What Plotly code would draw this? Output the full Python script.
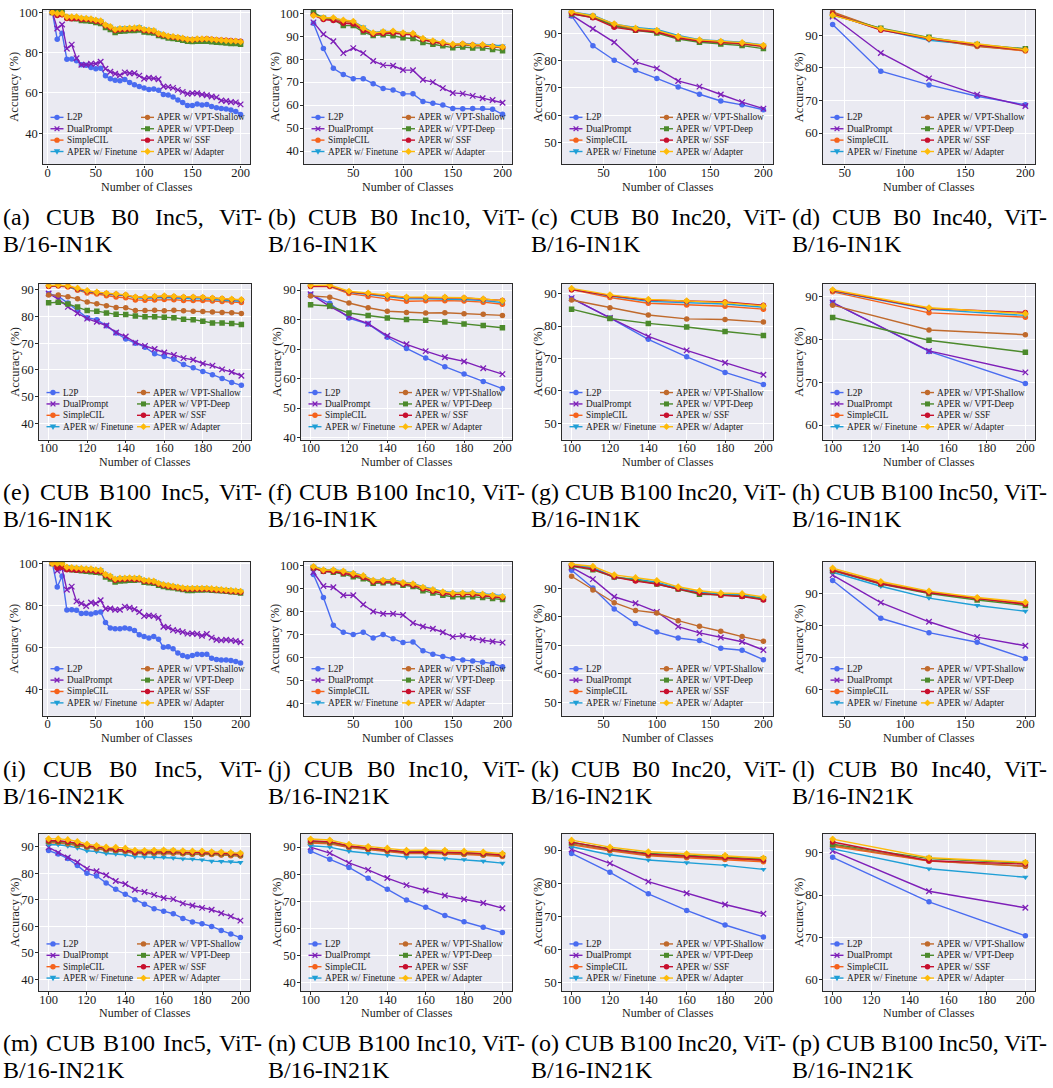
import plotly.graph_objects as go

W, H = 1053, 1088
FONT = "Liberation Serif, Times New Roman, serif"

SERIES = ["L2P", "DualPrompt", "SimpleCIL", "APER w/ Finetune",
          "APER w/ VPT-Shallow", "APER w/ VPT-Deep", "APER w/ SSF", "APER w/ Adapter"]
COLORS = ["#4a6cf0", "#7e1fb8", "#f5621c", "#1f9fd6",
          "#c06a2c", "#4c8a2c", "#c8102e", "#fdbb0a"]
SYMBOLS = ["circle", "x-thin", "circle", "triangle-down",
           "circle", "square", "circle", "diamond"]

# x values (number of classes seen)
X_B0_5 = list(range(5, 201, 5))
X_B0_10 = list(range(10, 201, 10))
X_B0_20 = list(range(20, 201, 20))
X_B0_40 = list(range(40, 201, 40))
X_B100_5 = list(range(100, 201, 5))
X_B100_10 = list(range(100, 201, 10))
X_B100_20 = list(range(100, 201, 20))
X_B100_50 = [100, 150, 200]

# (a) CUB B0 Inc5, IN1K
A_L2P = [100.0, 86.6, 89.6, 76.7, 76.8, 76.0, 74.0, 73.8, 72.6, 72.0, 72.3, 68.5, 67.0, 66.3, 66.0, 66.6, 65.2, 64.0, 63.2, 62.5, 61.7, 62.0, 61.3, 59.2, 59.0, 58.0, 56.5, 55.2, 53.8, 53.8, 54.5, 54.0, 54.3, 53.3, 52.6, 52.2, 52.0, 51.5, 50.8, 49.3]
A_DUAL = [100.0, 92.0, 94.0, 82.0, 84.0, 77.2, 74.0, 74.0, 74.5, 74.5, 75.5, 72.0, 70.5, 69.5, 68.8, 70.2, 69.8, 69.8, 68.6, 67.0, 67.5, 67.2, 66.8, 63.2, 63.0, 62.5, 61.5, 60.5, 59.6, 59.8, 59.8, 59.2, 58.8, 58.2, 57.8, 56.2, 56.0, 55.5, 55.3, 54.3]
A_SCIL = [100, 99.0, 99.0, 97.5, 97.4, 97.3, 96.8, 96.6, 96.4, 95.8, 95.4, 93.4, 92.6, 91.2, 91.6, 91.7, 91.8, 91.9, 92.1, 91.1, 90.8, 90.6, 89.2, 88.7, 87.9, 87.7, 87.3, 86.9, 86.3, 86.2, 86.5, 86.5, 86.6, 86.3, 86.1, 85.9, 85.7, 85.5, 85.5, 85.2]
A_FT = [100, 99.6, 99.6, 98.0, 97.8, 97.6, 97.3, 97.1, 96.9, 96.3, 96.0, 94.0, 93.2, 91.8, 92.3, 92.4, 92.5, 92.6, 92.9, 91.9, 91.5, 91.2, 89.8, 89.2, 88.5, 88.1, 87.8, 87.3, 86.8, 86.7, 86.9, 86.9, 86.9, 86.7, 86.5, 86.3, 86.1, 86.0, 85.9, 85.7]
A_VPTS = [100, 99.2, 99.2, 97.6, 97.3, 97.1, 96.6, 96.4, 96.2, 95.5, 95.1, 93.1, 92.3, 90.9, 91.3, 91.4, 91.5, 91.6, 91.8, 90.8, 90.5, 90.3, 88.9, 88.4, 87.6, 87.4, 87.0, 86.6, 86.0, 85.9, 86.2, 86.2, 86.3, 86.0, 85.8, 85.6, 85.4, 85.2, 85.2, 84.9]
A_VPTD = [100, 100.3, 100.3, 97.5, 97.0, 96.8, 96.0, 95.8, 95.6, 95.0, 94.5, 92.5, 91.5, 90.0, 90.6, 90.8, 91.0, 91.0, 91.3, 90.3, 90.0, 89.8, 88.5, 88.0, 87.3, 87.0, 86.6, 86.2, 85.6, 85.5, 85.6, 85.6, 85.6, 85.4, 85.2, 85.0, 84.8, 84.6, 84.5, 84.2]
A_SSF = [100, 98.5, 98.8, 97.0, 96.8, 97.0, 96.5, 96.4, 96.2, 95.6, 95.2, 93.3, 92.4, 91.0, 91.4, 91.5, 91.6, 91.7, 92.0, 91.0, 90.7, 90.5, 89.0, 88.6, 88.0, 87.6, 87.4, 87.0, 86.5, 86.4, 86.7, 86.7, 86.9, 86.6, 86.4, 86.3, 86.1, 86.0, 85.8, 85.6]
A_ADA = [100, 99.5, 99.5, 97.8, 97.8, 97.8, 97.2, 97.0, 96.8, 96.2, 95.8, 93.8, 93.0, 91.5, 92.0, 92.0, 92.2, 92.3, 92.5, 91.5, 91.2, 91.0, 89.5, 89.0, 88.2, 88.0, 87.6, 87.2, 86.6, 86.5, 86.8, 86.8, 86.9, 86.6, 86.4, 86.2, 86.0, 85.8, 85.8, 85.4]

# (b) CUB B0 Inc10, IN1K
B_L2P = [95.6, 84.6, 76.0, 73.3, 71.5, 71.5, 69.3, 67.2, 66.6, 64.9, 64.9, 61.6, 60.8, 60.0, 58.5, 58.4, 58.5, 58.5, 58.2, 56.0]
B_DUAL = [96.0, 90.8, 87.8, 82.6, 84.8, 82.6, 79.2, 77.4, 77.1, 75.3, 75.2, 71.0, 70.0, 67.4, 65.3, 65.0, 64.0, 63.0, 62.2, 61.0]
B_SCIL = [99.2, 97.6, 97.2, 96.4, 96.0, 93.0, 91.0, 91.6, 91.8, 91.0, 90.8, 88.6, 87.6, 86.9, 86.2, 86.4, 86.0, 85.9, 85.4, 85.1]
B_FT = [99.8, 98.0, 97.6, 96.8, 96.4, 94.0, 91.5, 92.2, 92.0, 91.5, 91.2, 89.0, 88.0, 87.2, 86.4, 86.7, 86.4, 86.4, 86.0, 85.8]
B_VPTS = [99.4, 97.8, 97.4, 96.5, 96.1, 93.2, 91.2, 91.6, 91.6, 91.0, 90.8, 88.4, 87.3, 86.7, 86.0, 86.2, 85.8, 85.8, 85.2, 84.9]
B_VPTD = [100.5, 97.8, 97.2, 94.6, 94.6, 91.8, 90.3, 90.6, 90.2, 89.3, 89.0, 87.2, 86.5, 85.8, 85.0, 85.3, 84.9, 84.9, 84.2, 83.7]
B_SSF = [99.2, 97.2, 96.8, 95.6, 95.3, 92.5, 90.8, 91.2, 91.4, 90.8, 90.6, 88.5, 87.5, 86.8, 86.2, 86.6, 86.2, 86.0, 85.5, 85.2]
B_ADA = [99.0, 98.0, 98.0, 97.0, 96.5, 93.5, 91.5, 92.0, 92.2, 91.5, 91.2, 89.0, 88.0, 87.3, 86.5, 86.7, 86.2, 86.3, 85.6, 85.3]

# (c) CUB B0 Inc20, IN1K
C_L2P = [96.5, 85.5, 80.2, 76.5, 73.5, 70.4, 67.7, 65.2, 63.8, 62.0]
C_DUAL = [96.8, 91.8, 86.8, 79.6, 77.2, 72.6, 70.5, 67.6, 64.8, 62.4]
C_SCIL = [97.8, 96.6, 93.4, 91.7, 91.0, 88.8, 87.5, 87.0, 86.5, 85.5]
C_FT = [98.0, 96.8, 93.5, 92.3, 91.5, 89.3, 87.8, 87.3, 86.8, 85.8]
C_VPTS = [97.6, 96.2, 93.0, 91.5, 90.6, 88.4, 87.2, 86.6, 86.1, 85.2]
C_VPTD = [97.2, 96.0, 92.8, 91.2, 90.2, 88.0, 86.8, 86.2, 85.6, 84.5]
C_SSF = [97.4, 95.8, 92.3, 91.2, 90.6, 88.4, 87.3, 86.7, 86.3, 85.3]
C_ADA = [98.0, 96.5, 93.6, 92.0, 91.2, 89.0, 87.7, 87.2, 86.7, 85.7]

# (d) CUB B0 Inc40, IN1K
D_L2P = [93.3, 79.0, 74.8, 71.3, 68.7]
D_DUAL = [95.8, 84.6, 76.8, 71.8, 68.3]
D_SCIL = [97.0, 91.8, 89.0, 86.8, 85.2]
D_FT = [96.5, 91.8, 88.5, 87.0, 85.8]
D_VPTS = [97.2, 91.9, 89.0, 86.6, 85.4]
D_VPTD = [96.2, 92.2, 89.4, 87.2, 85.9]
D_SSF = [96.6, 91.6, 89.0, 87.0, 85.5]
D_ADA = [96.2, 92.0, 89.2, 87.3, 85.6]

# (e) CUB B100 Inc5, IN1K
E_L2P = [88.5, 87.5, 85.0, 82.3, 79.5, 78.8, 76.5, 73.8, 71.6, 70.0, 68.5, 66.0, 65.0, 64.0, 62.0, 60.8, 59.4, 58.2, 56.8, 55.3, 54.2]
E_DUAL = [88.6, 86.5, 83.6, 81.2, 79.2, 78.0, 76.6, 74.0, 72.5, 70.2, 69.0, 67.8, 66.5, 65.6, 64.4, 63.8, 62.4, 61.6, 60.2, 59.2, 57.8]
E_SCIL = [91.2, 91.4, 91.0, 89.8, 88.8, 88.4, 87.8, 87.3, 87.0, 86.2, 86.1, 86.2, 86.4, 86.3, 86.0, 86.0, 86.0, 85.8, 85.6, 85.4, 85.2]
E_FT = [91.4, 91.6, 91.2, 90.0, 89.2, 88.8, 88.3, 88.0, 87.8, 87.0, 86.8, 86.9, 87.1, 86.9, 86.7, 86.6, 86.6, 86.3, 86.1, 85.9, 85.7]
E_VPTS = [88.0, 88.0, 87.4, 86.6, 85.4, 84.8, 84.0, 83.4, 83.3, 82.2, 82.2, 82.3, 82.1, 82.3, 82.1, 82.0, 81.9, 81.7, 81.5, 81.4, 81.1]
E_VPTD = [85.1, 85.3, 84.7, 83.5, 82.2, 82.0, 81.3, 80.8, 80.7, 80.2, 79.9, 79.9, 79.7, 79.5, 79.0, 78.8, 78.2, 77.6, 77.6, 77.4, 77.0]
E_SSF = [91.3, 91.6, 91.3, 90.3, 89.4, 89.0, 88.6, 88.3, 88.0, 87.2, 87.2, 87.4, 87.6, 87.4, 87.2, 87.2, 87.1, 86.8, 86.6, 86.4, 86.2]
E_ADA = [91.6, 91.8, 91.5, 90.6, 89.7, 89.1, 88.7, 88.4, 88.1, 87.3, 87.3, 87.5, 87.7, 87.5, 87.3, 87.3, 87.2, 86.9, 86.7, 86.5, 86.3]

# (f) CUB B100 Inc10, IN1K
F_L2P = [88.5, 85.5, 80.5, 78.5, 74.0, 70.2, 67.0, 64.0, 61.5, 59.0, 56.6]
F_DUAL = [88.6, 84.5, 81.0, 78.6, 74.5, 71.6, 69.3, 67.2, 65.8, 63.5, 61.5]
F_SCIL = [91.2, 91.2, 88.8, 87.8, 87.0, 86.2, 86.4, 86.4, 86.3, 85.9, 85.2]
F_FT = [91.5, 91.4, 89.2, 88.5, 87.6, 87.0, 87.0, 87.0, 86.8, 86.4, 85.8]
F_VPTS = [88.0, 87.6, 85.6, 84.0, 82.8, 82.4, 82.2, 82.3, 82.0, 81.8, 81.4]
F_VPTD = [85.0, 84.6, 82.2, 81.4, 80.5, 80.0, 79.8, 79.2, 78.5, 78.0, 77.2]
F_SSF = [91.3, 91.4, 89.3, 88.8, 88.1, 87.5, 87.5, 87.5, 87.3, 86.9, 86.5]
F_ADA = [91.6, 91.7, 89.6, 89.0, 88.2, 87.6, 87.6, 87.6, 87.4, 87.0, 86.4]

# (g) CUB B100 Inc20, IN1K
G_L2P = [88.5, 82.5, 75.9, 70.5, 65.7, 62.0]
G_DUAL = [88.6, 82.5, 76.8, 72.5, 68.7, 65.0]
G_SCIL = [91.2, 88.8, 87.0, 86.5, 86.1, 85.2]
G_FT = [91.4, 89.2, 87.6, 87.2, 86.8, 85.8]
G_VPTS = [88.0, 85.6, 83.4, 82.2, 82.0, 81.2]
G_VPTD = [85.2, 82.3, 80.8, 79.7, 78.3, 77.1]
G_SSF = [91.2, 89.4, 88.0, 87.6, 87.4, 86.4]
G_ADA = [91.6, 89.6, 88.2, 87.8, 87.2, 86.2]

# (h) CUB B100 Inc50, IN1K
H_L2P = [88.6, 77.2, 69.7]
H_DUAL = [88.6, 77.3, 72.3]
H_SCIL = [91.1, 86.2, 85.2]
H_FT = [91.3, 87.0, 85.6]
H_VPTS = [88.0, 82.2, 81.1]
H_VPTD = [85.1, 79.8, 77.0]
H_SSF = [91.4, 87.2, 86.3]
H_ADA = [91.6, 87.4, 86.0]

# (i) CUB B0 Inc5, IN21K
I_L2P = [100.0, 88.8, 94.0, 77.9, 78.0, 77.8, 76.2, 76.4, 76.0, 76.6, 77.0, 72.0, 69.4, 69.0, 69.0, 69.4, 69.0, 68.2, 66.2, 65.4, 64.6, 65.3, 64.0, 60.2, 60.5, 59.5, 57.5, 56.3, 55.8, 56.3, 57.0, 56.8, 57.0, 55.0, 54.5, 54.2, 54.2, 54.0, 53.5, 52.8]
I_DUAL = [100.0, 96.5, 97.5, 87.5, 89.0, 82.0, 81.0, 79.8, 81.5, 81.0, 82.5, 78.5, 78.6, 78.0, 78.0, 79.5, 79.0, 78.3, 77.0, 75.0, 75.3, 75.0, 74.2, 70.0, 69.6, 68.4, 68.0, 67.5, 66.7, 66.8, 66.5, 65.7, 66.5, 64.8, 63.8, 63.5, 63.8, 63.5, 63.2, 62.6]
I_SCIL = [100, 98.5, 99.0, 97.8, 97.6, 97.4, 97.2, 97.0, 97.0, 96.6, 96.4, 94.4, 93.6, 92.2, 92.6, 92.6, 92.8, 92.6, 92.6, 91.6, 91.4, 91.2, 90.2, 89.6, 89.2, 88.8, 88.4, 88.0, 87.8, 87.8, 87.8, 87.8, 87.8, 87.6, 87.4, 87.2, 87.0, 86.8, 86.6, 86.4]
I_FT = [100, 100, 100, 98.4, 98.2, 98.0, 97.8, 97.6, 97.6, 97.2, 97.0, 95.0, 94.2, 92.8, 93.2, 93.3, 93.4, 93.3, 93.3, 92.3, 92.0, 91.8, 90.8, 90.2, 89.8, 89.4, 89.0, 88.6, 88.4, 88.4, 88.4, 88.4, 88.4, 88.2, 88.0, 87.8, 87.6, 87.4, 87.2, 87.0]
I_VPTS = [100, 99.5, 99.5, 97.6, 97.4, 97.2, 97.0, 96.8, 96.8, 96.4, 96.2, 94.2, 93.4, 92.0, 92.4, 92.4, 92.6, 92.4, 92.4, 91.4, 91.2, 91.0, 90.0, 89.4, 89.0, 88.6, 88.2, 87.8, 87.6, 87.6, 87.6, 87.6, 87.6, 87.4, 87.2, 87.0, 86.8, 86.6, 86.4, 86.2]
I_VPTD = [100, 100, 100, 97.5, 97.0, 96.8, 96.5, 96.3, 96.0, 95.8, 95.6, 93.6, 92.6, 91.2, 91.6, 91.8, 92.0, 92.0, 92.2, 91.0, 90.8, 90.6, 89.6, 89.0, 88.6, 88.4, 88.0, 87.6, 87.2, 87.2, 87.4, 87.4, 87.5, 87.3, 87.1, 87.0, 86.8, 86.6, 86.4, 86.0]
I_SSF = [100, 97.8, 98.2, 97.0, 97.0, 96.8, 96.8, 96.6, 96.6, 96.2, 96.0, 94.2, 93.4, 92.0, 92.4, 92.4, 92.6, 92.4, 92.4, 91.5, 91.3, 91.1, 90.1, 89.5, 89.1, 88.7, 88.3, 87.9, 87.7, 87.7, 87.7, 87.7, 87.7, 87.5, 87.3, 87.1, 86.9, 86.7, 86.5, 86.3]
I_ADA = [100, 100, 100, 98.2, 98.0, 97.8, 97.6, 97.4, 97.4, 97.0, 96.8, 94.8, 94.0, 92.6, 93.0, 93.0, 93.2, 93.0, 93.0, 92.0, 91.8, 91.6, 90.6, 90.0, 89.6, 89.2, 88.8, 88.4, 88.2, 88.2, 88.2, 88.2, 88.2, 88.0, 87.8, 87.6, 87.4, 87.2, 87.0, 86.8]

# (j) CUB B0 Inc10, IN21K
J_L2P = [96.0, 86.0, 74.0, 71.0, 70.0, 71.0, 68.5, 70.0, 68.2, 66.5, 66.8, 63.0, 61.5, 60.5, 59.5, 59.0, 58.5, 58.0, 57.5, 56.0]
J_DUAL = [97.0, 91.0, 90.5, 87.0, 87.0, 83.0, 80.0, 79.0, 79.0, 78.5, 75.0, 73.5, 72.5, 71.0, 69.0, 69.5, 68.5, 67.5, 67.0, 66.5]
J_SCIL = [99.2, 97.7, 97.6, 97.0, 96.0, 95.0, 93.0, 93.0, 93.0, 92.0, 91.5, 90.0, 89.0, 88.0, 87.5, 87.5, 87.5, 87.0, 86.6, 86.1]
J_FT = [99.6, 98.2, 98.1, 97.6, 96.7, 95.6, 93.6, 93.7, 93.7, 92.7, 92.2, 90.7, 89.7, 88.7, 88.2, 88.2, 88.2, 87.7, 87.3, 86.8]
J_VPTS = [99.3, 97.8, 97.7, 97.1, 96.1, 95.1, 93.1, 93.1, 93.1, 92.1, 91.6, 90.0, 89.0, 88.0, 87.5, 87.5, 87.5, 87.0, 86.6, 86.2]
J_VPTD = [99.0, 97.4, 97.0, 96.2, 95.0, 94.2, 92.2, 92.4, 92.4, 91.4, 90.8, 89.0, 88.0, 87.0, 86.4, 86.4, 86.4, 86.0, 85.6, 85.2]
J_SSF = [98.8, 97.3, 97.2, 96.6, 95.6, 94.7, 92.8, 92.8, 92.8, 91.8, 91.3, 89.8, 88.8, 87.8, 87.3, 87.3, 87.3, 86.8, 86.4, 85.9]
J_ADA = [99.5, 98.0, 98.0, 97.5, 96.5, 95.5, 93.5, 93.5, 93.5, 92.5, 92.0, 90.5, 89.5, 88.5, 88.0, 88.0, 88.0, 87.5, 87.0, 86.5]

# (k) CUB B0 Inc20, IN21K
K_L2P = [96.4, 90.2, 82.8, 77.7, 74.7, 72.6, 71.7, 69.0, 68.3, 65.0]
K_DUAL = [97.4, 93.3, 87.1, 84.8, 81.8, 76.6, 74.4, 72.8, 71.3, 68.4]
K_SCIL = [98.4, 97.2, 94.2, 92.8, 91.8, 90.0, 88.5, 87.8, 87.4, 86.2]
K_FT = [98.2, 97.4, 93.8, 93.4, 92.2, 90.2, 88.8, 88.0, 87.8, 86.6]
K_VPTS = [94.3, 89.5, 85.0, 82.3, 81.4, 78.7, 76.7, 75.0, 73.1, 71.5]
K_VPTD = [97.8, 96.6, 94.0, 93.0, 91.6, 89.8, 88.0, 87.8, 87.3, 86.3]
K_SSF = [98.0, 96.8, 94.0, 92.6, 91.6, 89.8, 88.3, 87.6, 87.2, 86.0]
K_ADA = [98.5, 97.8, 94.8, 93.8, 92.8, 90.6, 89.2, 88.4, 88.2, 87.0]

# (l) CUB B0 Inc40, IN21K
L_L2P = [94.1, 82.3, 77.8, 74.8, 69.7]
L_DUAL = [95.8, 87.2, 81.2, 76.4, 73.7]
L_SCIL = [97.4, 93.2, 90.2, 88.3, 86.6]
L_FT = [96.7, 92.3, 88.6, 86.3, 84.5]
L_VPTS = [97.5, 93.4, 90.5, 88.6, 87.0]
L_VPTD = [97.2, 93.0, 90.0, 88.0, 86.3]
L_SSF = [97.3, 93.1, 90.3, 88.4, 86.7]
L_ADA = [98.0, 93.8, 90.8, 88.8, 87.3]

# (m) CUB B100 Inc5, IN21K
M_L2P = [88.6, 87.3, 85.6, 83.0, 80.0, 79.0, 76.4, 74.0, 72.1, 70.1, 68.4, 66.7, 65.7, 64.8, 63.0, 61.7, 61.0, 60.0, 58.5, 57.2, 55.8]
M_DUAL = [89.8, 87.8, 86.0, 84.2, 81.8, 80.8, 79.3, 77.1, 76.0, 73.8, 73.0, 71.9, 70.7, 70.3, 68.7, 67.9, 67.0, 66.3, 65.0, 63.8, 62.2]
M_SCIL = [91.5, 91.4, 91.0, 90.4, 89.8, 89.2, 88.7, 88.4, 88.2, 87.5, 87.5, 87.5, 87.6, 87.6, 87.4, 87.2, 87.2, 87.1, 86.9, 86.6, 86.5]
M_FT = [90.8, 90.8, 90.3, 89.6, 88.5, 88.2, 87.5, 87.3, 87.0, 86.3, 86.2, 86.1, 86.1, 85.8, 85.5, 85.4, 85.1, 84.6, 84.5, 84.4, 84.1]
M_VPTS = [91.8, 91.7, 91.2, 90.5, 89.9, 89.3, 88.8, 88.5, 88.3, 87.6, 87.6, 87.6, 87.7, 87.7, 87.5, 87.3, 87.3, 87.2, 87.0, 86.8, 86.6]
M_VPTD = [92.2, 92.1, 91.7, 91.0, 90.3, 89.9, 89.3, 89.0, 88.9, 88.0, 88.0, 88.1, 88.2, 88.2, 87.9, 87.8, 87.8, 87.6, 87.5, 87.3, 87.1]
M_SSF = [92.3, 92.3, 91.9, 91.3, 90.4, 90.0, 89.3, 89.0, 88.8, 88.0, 88.0, 88.1, 88.2, 88.2, 88.0, 87.9, 87.9, 87.7, 87.6, 87.4, 87.2]
M_ADA = [93.0, 93.0, 92.7, 92.0, 91.0, 90.5, 89.9, 89.8, 89.5, 88.7, 88.6, 88.7, 88.8, 88.7, 88.5, 88.4, 88.4, 88.1, 88.0, 87.8, 87.6]

# (n) CUB B100 Inc10, IN21K
N_L2P = [88.5, 85.5, 82.5, 78.5, 74.5, 70.5, 67.8, 64.8, 62.5, 60.5, 58.5]
N_DUAL = [90.0, 87.8, 84.2, 81.6, 78.6, 76.0, 74.0, 72.2, 70.8, 69.4, 67.5]
N_SCIL = [91.5, 91.2, 89.8, 89.0, 88.4, 87.6, 87.7, 87.6, 87.3, 87.0, 86.5]
N_FT = [90.5, 90.0, 88.5, 87.7, 87.0, 86.3, 86.3, 85.8, 85.4, 84.8, 84.1]
N_VPTS = [91.8, 91.5, 90.0, 89.2, 88.6, 87.8, 87.9, 87.8, 87.5, 87.2, 86.8]
N_VPTD = [92.2, 91.9, 90.4, 89.6, 89.0, 88.2, 88.3, 88.2, 87.9, 87.6, 87.2]
N_SSF = [92.3, 92.0, 90.4, 89.6, 89.0, 88.1, 88.2, 88.1, 87.9, 87.6, 87.1]
N_ADA = [93.0, 92.6, 91.0, 90.2, 89.6, 88.8, 88.9, 88.8, 88.5, 88.2, 87.6]

# (o) CUB B100 Inc20, IN21K
O_L2P = [89.0, 83.3, 76.8, 71.8, 67.4, 63.8]
O_DUAL = [90.2, 86.0, 80.5, 77.0, 73.6, 70.8]
O_SCIL = [91.6, 89.8, 88.3, 87.7, 87.2, 86.5]
O_FT = [91.0, 88.6, 87.0, 86.2, 85.4, 84.2]
O_VPTS = [91.9, 90.0, 88.5, 87.9, 87.5, 86.9]
O_VPTD = [92.3, 90.4, 89.0, 88.4, 88.0, 87.3]
O_SSF = [92.4, 90.3, 88.8, 88.2, 87.8, 87.0]
O_ADA = [93.0, 90.9, 89.5, 88.9, 88.4, 87.6]

# (p) CUB B100 Inc50, IN21K
P_L2P = [88.9, 78.4, 70.4]
P_DUAL = [90.4, 80.9, 77.0]
P_SCIL = [91.5, 88.0, 86.8]
P_FT = [90.9, 86.2, 84.2]
P_VPTS = [91.8, 88.1, 86.8]
P_VPTD = [92.0, 88.6, 87.5]
P_SSF = [92.5, 88.1, 87.3]
P_ADA = [93.2, 88.8, 87.7]

CAPTIONS = [
    ("(a) CUB B0 Inc5, ViT-", "B/16-IN1K"), ("(b) CUB B0 Inc10, ViT-", "B/16-IN1K"),
    ("(c) CUB B0 Inc20, ViT-", "B/16-IN1K"), ("(d) CUB B0 Inc40, ViT-", "B/16-IN1K"),
    ("(e) CUB B100 Inc5, ViT-", "B/16-IN1K"), ("(f) CUB B100 Inc10, ViT-", "B/16-IN1K"),
    ("(g) CUB B100 Inc20, ViT-", "B/16-IN1K"), ("(h) CUB B100 Inc50, ViT-", "B/16-IN1K"),
    ("(i) CUB B0 Inc5, ViT-", "B/16-IN21K"), ("(j) CUB B0 Inc10, ViT-", "B/16-IN21K"),
    ("(k) CUB B0 Inc20, ViT-", "B/16-IN21K"), ("(l) CUB B0 Inc40, ViT-", "B/16-IN21K"),
    ("(m) CUB B100 Inc5, ViT-", "B/16-IN21K"), ("(n) CUB B100 Inc10, ViT-", "B/16-IN21K"),
    ("(o) CUB B100 Inc20, ViT-", "B/16-IN21K"), ("(p) CUB B100 Inc50, ViT-", "B/16-IN21K"),
]

PANELS = [
    (X_B0_5, [A_L2P, A_DUAL, A_SCIL, A_FT, A_VPTS, A_VPTD, A_SSF, A_ADA], [24.5, 101.2], 20, 50),
    (X_B0_10, [B_L2P, B_DUAL, B_SCIL, B_FT, B_VPTS, B_VPTD, B_SSF, B_ADA], [34.2, 101.4], 10, 50),
    (X_B0_20, [C_L2P, C_DUAL, C_SCIL, C_FT, C_VPTS, C_VPTD, C_SSF, C_ADA], [41.9, 98.7], 10, 50),
    (X_B0_40, [D_L2P, D_DUAL, D_SCIL, D_FT, D_VPTS, D_VPTD, D_SSF, D_ADA], [50.4, 97.8], 10, 50),
    (X_B100_5, [E_L2P, E_DUAL, E_SCIL, E_FT, E_VPTS, E_VPTD, E_SSF, E_ADA], [33.9, 92.1], 10, 20),
    (X_B100_10, [F_L2P, F_DUAL, F_SCIL, F_FT, F_VPTS, F_VPTD, F_SSF, F_ADA], [39.3, 92.0], 10, 20),
    (X_B100_20, [G_L2P, G_DUAL, G_SCIL, G_FT, G_VPTS, G_VPTD, G_SSF, G_ADA], [45.0, 92.9], 10, 20),
    (X_B100_50, [H_L2P, H_DUAL, H_SCIL, H_FT, H_VPTS, H_VPTD, H_SSF, H_ADA], [56.6, 92.9], 10, 20),
    (X_B0_5, [I_L2P, I_DUAL, I_SCIL, I_FT, I_VPTS, I_VPTD, I_SSF, I_ADA], [27.8, 100.5], 20, 50),
    (X_B0_10, [J_L2P, J_DUAL, J_SCIL, J_FT, J_VPTS, J_VPTD, J_SSF, J_ADA], [34.8, 101.3], 10, 50),
    (X_B0_20, [K_L2P, K_DUAL, K_SCIL, K_FT, K_VPTS, K_VPTD, K_SSF, K_ADA], [45.3, 99.2], 10, 50),
    (X_B0_40, [L_L2P, L_DUAL, L_SCIL, L_FT, L_VPTS, L_VPTD, L_SSF, L_ADA], [51.8, 99.8], 10, 50),
    (X_B100_5, [M_L2P, M_DUAL, M_SCIL, M_FT, M_VPTS, M_VPTD, M_SSF, M_ADA], [35.7, 95.0], 10, 20),
    (X_B100_10, [N_L2P, N_DUAL, N_SCIL, N_FT, N_VPTS, N_VPTD, N_SSF, N_ADA], [37.0, 95.0], 10, 20),
    (X_B100_20, [O_L2P, O_DUAL, O_SCIL, O_FT, O_VPTS, O_VPTD, O_SSF, O_ADA], [47.5, 95.0], 10, 20),
    (X_B100_50, [P_L2P, P_DUAL, P_SCIL, P_FT, P_VPTS, P_VPTD, P_SSF, P_ADA], [57.4, 94.5], 10, 20),
]

# plot-area boxes in pixels: (left, right, top, bottom)
ROW_TB = [(4, 160), (281, 438), (562, 717), (836, 995)]
COL_LR = [
    [(43, 250), (304, 512), (562, 773), (823, 1035)],
    [(39, 251), (301, 512), (562, 773), (823, 1035)],
    [(43, 250), (304, 512), (562, 773), (823, 1035)],
    [(39, 250), (301, 512), (562, 773), (823, 1035)],
]
CAP_X0 = [2, 267, 530, 791]
CAP_X1 = [265, 528, 789, 1050]
CAP_Y = [(213, 240), (491, 518), (771, 798), (1048, 1075)]
CAP_SIZE = 24

TIMES_W = {'(': 333, ')': 333, ' ': 250, ',': 250, '-': 333, '/': 278,
           'a': 444, 'b': 500, 'c': 444, 'd': 500, 'e': 444, 'f': 333, 'g': 500,
           'h': 500, 'i': 278, 'j': 278, 'k': 500, 'l': 278, 'm': 778, 'n': 500,
           'o': 500, 'p': 500, 'C': 667, 'U': 722, 'B': 667, 'I': 333, 'V': 722,
           'T': 611, 'N': 722, 'K': 722}


def text_width(s, size):
    return sum(TIMES_W.get(ch, 500) for ch in s) / 1000.0 * size


fig = go.Figure()
shapes = []
annotations = []

# legend geometry (pixels from plot-area left / bottom)
LEG_COLS = [(14.0, 22.5), (104.5, 113.0)]
LEG_ROWS = [47.5, 36.0, 24.5, 13.0]
LEG_ORDER = [0, 4, 1, 5, 2, 6, 3, 7]
axis_font = dict(family=FONT, size=12.5, color="#1a1a1a")
title_font = dict(family=FONT, size=12, color="#1a1a1a")

for k, (xs, ys, yr, ydt, xdt) in enumerate(PANELS):
    r, c = divmod(k, 4)
    n = k + 1
    xa = "x" if n == 1 else f"x{n}"
    ya = "y" if n == 1 else f"y{n}"
    left, right = COL_LR[r][c]
    top, bottom = ROW_TB[r]
    wpx, hpx = right - left, bottom - top
    span = xs[-1] - xs[0]
    xr = [xs[0] - 0.05 * span, xs[-1] + 0.05 * span]

    for s in range(8):
        sym = SYMBOLS[s]
        marker = dict(symbol=sym, size=5.5, color=COLORS[s], line=dict(width=0))
        if sym == "x-thin":
            marker["line"] = dict(width=1.3, color=COLORS[s])
        fig.add_trace(go.Scatter(
            x=xs, y=ys[s], mode="lines+markers", name=SERIES[s],
            line=dict(color=COLORS[s], width=1.4), marker=marker,
            xaxis=xa, yaxis=ya, showlegend=False, cliponaxis=True))

    fig.layout[("xaxis" if n == 1 else f"xaxis{n}")] = dict(
        domain=[left / W, right / W], anchor=ya, range=xr,
        dtick=xdt, tick0=0, showgrid=True, gridcolor="white", gridwidth=1,
        zeroline=False, showline=True, mirror=True, linecolor="#2b2b2b", linewidth=1.3,
        ticks="outside", ticklen=2.5, tickcolor="#2b2b2b", tickfont=axis_font,
        ticklabelstandoff=-6)
    fig.layout[("yaxis" if n == 1 else f"yaxis{n}")] = dict(
        domain=[1 - bottom / H, 1 - top / H], anchor=xa, range=yr,
        dtick=ydt, tick0=0, showgrid=True, gridcolor="white", gridwidth=1,
        zeroline=False, showline=True, mirror=True, linecolor="#2b2b2b", linewidth=1.3,
        ticks="outside", ticklen=2.5, tickcolor="#2b2b2b", tickfont=axis_font,
        ticklabelstandoff=-1)

    xd, yd = f"{xa} domain", f"{ya} domain"
    # axis titles
    annotations.append(dict(xref=xd, yref="paper", x=0.5, y=1 - (bottom + 22.5) / H,
                            text="Number of Classes", showarrow=False, borderpad=0,
                            xanchor="center", yanchor="middle", font=title_font))
    ytitle_off = 28.5 if yr[1] >= 100 else 24
    annotations.append(dict(xref="paper", yref=yd, x=(left - ytitle_off) / W, y=0.5,
                            text="Accuracy (%)", showarrow=False, textangle=-90, borderpad=0,
                            xanchor="center", yanchor="middle", font=axis_font))

    # legend drawn inside the plot area
    for pos, s in enumerate(LEG_ORDER):
        rr, cc = divmod(pos, 2)
        mx, tx = LEG_COLS[cc]
        my = LEG_ROWS[rr]
        fx, fy = mx / wpx, my / hpx
        col = COLORS[s]
        base = dict(xref=xd, yref=yd, xsizemode="pixel", ysizemode="pixel",
                    xanchor=fx, yanchor=fy)
        shapes.append(dict(type="line", x0=-6.5, x1=6.5, y0=0, y1=0,
                           line=dict(color=col, width=1.4), **base))
        sym = SYMBOLS[s]
        if sym == "circle":
            shapes.append(dict(type="circle", x0=-2.7, x1=2.7, y0=-2.7, y1=2.7,
                               fillcolor=col, line=dict(width=0), **base))
        elif sym == "square":
            shapes.append(dict(type="rect", x0=-2.5, x1=2.5, y0=-2.5, y1=2.5,
                               fillcolor=col, line=dict(width=0), **base))
        elif sym == "diamond":
            shapes.append(dict(type="path", path="M0,3.4 L3.4,0 L0,-3.4 L-3.4,0 Z",
                               fillcolor=col, line=dict(width=0), **base))
        elif sym == "triangle-down":
            shapes.append(dict(type="path", path="M-3.2,2.2 L3.2,2.2 L0,-3.2 Z",
                               fillcolor=col, line=dict(width=0), **base))
        else:
            shapes.append(dict(type="path", path="M-2.4,-2.4 L2.4,2.4 M-2.4,2.4 L2.4,-2.4",
                               line=dict(color=col, width=1.3), **base))
        annotations.append(dict(xref=xd, yref=yd, x=tx / wpx, y=fy, text=SERIES[s],
                                showarrow=False, xanchor="left", yanchor="middle", borderpad=0,
                                font=dict(family=FONT, size=9.3, color="#1a1a1a")))

    # caption, first line justified
    line1, line2 = CAPTIONS[k]
    words = line1.split(" ")
    x0, x1 = CAP_X0[c], CAP_X1[c]
    widths = [text_width(wd, CAP_SIZE) for wd in words]
    gap = (x1 - x0 - sum(widths)) / (len(words) - 1)
    cx = x0
    y1px, y2px = CAP_Y[r]
    for wd, ww in zip(words, widths):
        annotations.append(dict(xref="paper", yref="paper", x=cx / W, y=1 - y1px / H,
                                text=wd, showarrow=False, xanchor="left", yanchor="middle",
                                borderpad=0,
                                font=dict(family=FONT, size=CAP_SIZE, color="black")))
        cx += ww + gap
    annotations.append(dict(xref="paper", yref="paper", x=x0 / W, y=1 - y2px / H,
                            text=line2, showarrow=False, xanchor="left", yanchor="middle",
                            borderpad=0,
                            font=dict(family=FONT, size=CAP_SIZE, color="black")))

fig.update_layout(
    width=W, height=H, margin=dict(l=0, r=0, t=0, b=0),
    paper_bgcolor="white", plot_bgcolor="#eaeaf2",
    showlegend=False, shapes=shapes, annotations=annotations,
    font=dict(family=FONT, color="#1a1a1a"),
)

fig.write_html("out.html")
